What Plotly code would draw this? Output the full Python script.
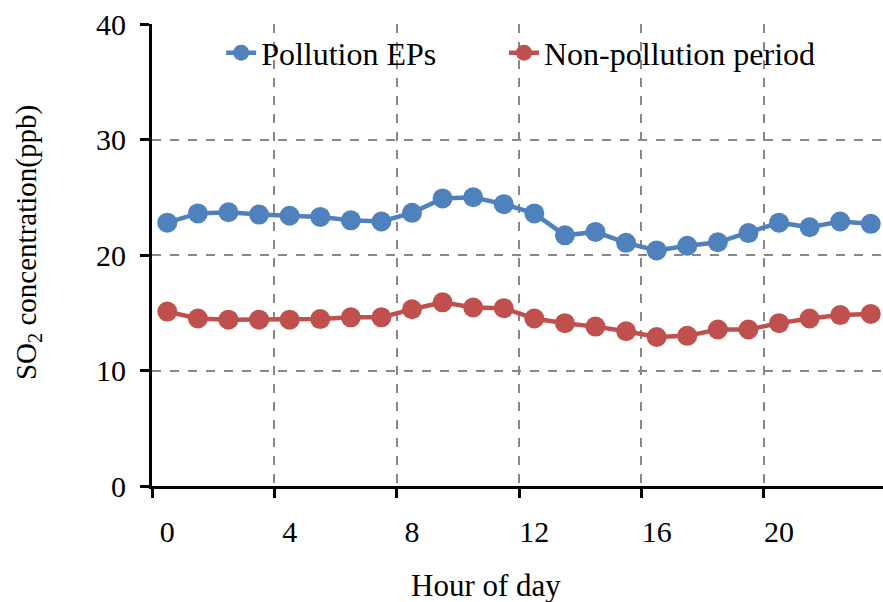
import plotly.graph_objects as go

hours = list(range(24))
pollution_eps = [22.8, 23.6, 23.7, 23.5, 23.4, 23.3, 23.0, 22.9, 23.65, 24.9, 25.0, 24.4,
                 23.6, 21.7, 22.0, 21.05, 20.4, 20.8, 21.1, 21.9, 22.8, 22.4, 22.9, 22.7]
non_pollution = [15.1, 14.5, 14.4, 14.4, 14.4, 14.45, 14.6, 14.6, 15.3, 15.9, 15.45, 15.4,
                 14.5, 14.1, 13.8, 13.4, 12.9, 13.0, 13.55, 13.55, 14.1, 14.5, 14.8, 14.9]
label_hours = [0, 4, 8, 12, 16, 20]
boundary_ticks = [-0.5, 3.5, 7.5, 11.5, 15.5, 19.5, 23.5]

BLUE = "#4F81BD"
RED = "#C0504D"
FONT = "Liberation Serif"
TICKF = dict(family=FONT, size=30, color="black")
LEGF = dict(family=FONT, size=32, color="black")
YTF = dict(family=FONT, size=29, color="black")
XTF = dict(family=FONT, size=31, color="black")
XR = [-0.5, 23.4]

fig = go.Figure()
fig.add_trace(go.Scatter(x=hours, y=pollution_eps, name="Pollution EPs", mode="lines+markers",
                         line=dict(color=BLUE, width=4.5), marker=dict(color=BLUE, size=20),
                         xaxis="x", yaxis="y", legend="legend"))
fig.add_trace(go.Scatter(x=hours, y=non_pollution, name="Non-pollution period", mode="lines+markers",
                         line=dict(color=RED, width=4.5), marker=dict(color=RED, size=20),
                         xaxis="x2", yaxis="y", legend="legend2"))

leg_common = dict(orientation="h", y=0.997, xanchor="left", yanchor="top",
                  bgcolor="rgba(0,0,0,0)", font=LEGF, itemwidth=30)

fig.update_layout(
    width=883, height=602,
    margin=dict(l=152, r=0, t=24, b=116),
    paper_bgcolor="white", plot_bgcolor="white",
    font=TICKF,
    showlegend=True,
    legend=dict(x=0.0946, **leg_common),
    legend2=dict(x=0.4815, **leg_common),
    xaxis=dict(range=XR, tickmode="array", tickvals=boundary_ticks,
               showticklabels=False,
               showgrid=True, gridcolor="#888888", griddash="dash", gridwidth=1.5,
               showline=True, linecolor="black", linewidth=3,
               ticks="outside", ticklen=9, tickwidth=3, tickcolor="black",
               zeroline=False),
    xaxis2=dict(range=XR, overlaying="x", anchor="y", side="bottom",
                tickmode="array", tickvals=label_hours, ticktext=[str(h) for h in label_hours],
                tickfont=TICKF,
                showgrid=False, showline=False, ticks="", zeroline=False,
                ticklabelstandoff=25),
    yaxis=dict(range=[0, 40], tickmode="array", tickvals=[0, 10, 20, 30, 40],
               tickfont=TICKF,
               showgrid=True, gridcolor="#888888", griddash="dash", gridwidth=1.5,
               showline=True, linecolor="black", linewidth=3,
               ticks="outside", ticklen=9, tickwidth=3, tickcolor="black",
               zeroline=False, ticklabelstandoff=8),
    annotations=[
        dict(text="Hour of day", xref="paper", yref="paper",
             x=0.457, y=-0.216, xanchor="center", yanchor="middle",
             showarrow=False, font=XTF),
        dict(text="SO<sub>2</sub> concentration(ppb)", xref="paper", yref="paper",
             x=-0.1696, y=0.526, xanchor="center", yanchor="middle", textangle=-90,
             showarrow=False, font=YTF),
    ],
)

fig.write_html("out.html")
